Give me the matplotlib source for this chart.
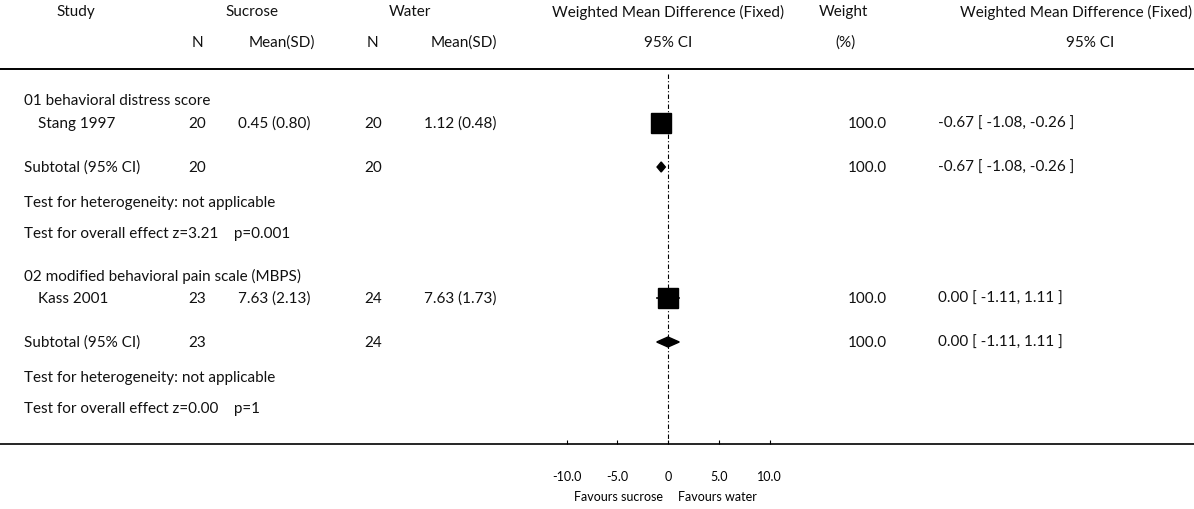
import matplotlib
matplotlib.use('Agg')
import matplotlib.pyplot as plt
from matplotlib.patches import Polygon

plt.rcParams['font.family'] = ['Lato', 'DejaVu Sans']

# ------------------------------------------------------------------ #
# Data                                                                 #
# ------------------------------------------------------------------ #
group_names = ['01 behavioral distress score',
               '02 modified behavioral pain scale (MBPS)']
study_names = ['Stang 1997', 'Kass 2001']
sucrose_n = [20, 23]
sucrose_mean = [0.45, 7.63]
sucrose_sd = [0.80, 2.13]
water_n = [20, 24]
water_mean = [1.12, 7.63]
water_sd = [0.48, 1.73]
weights = [100.0, 100.0]
wmd = [-0.67, 0.00]
ci_low = [-1.08, -1.11]
ci_high = [-0.26, 1.11]
z_values = ['3.21', '0.00']
p_values = ['0.001', '1']
axis_ticks = [-10, -5, 0, 5, 10]
axis_ticklabels = ['-10.0', '-5.0', '0', '5.0', '10.0']

W, H = 1194, 510
FS = 11

fig = plt.figure(figsize=(W / 100, H / 100), dpi=100)

# text layer in pixel coordinates (y grows downward)
tx = fig.add_axes([0, 0, 1, 1])
tx.set_xlim(0, W)
tx.set_ylim(H, 0)
tx.axis('off')


def put(x, y, s, ha='left', fs=FS):
    tx.text(x, y, s, ha=ha, va='center', fontsize=fs, color='#111111')


# column headers
put(76, 12, 'Study', 'center')
put(252, 12, 'Sucrose', 'center')
put(410, 12, 'Water', 'center')
put(668, 12, 'Weighted Mean Difference (Fixed)', 'center')
put(843, 12, 'Weight', 'center')
put(1192, 12, 'Weighted Mean Difference (Fixed)', 'right')
put(197, 43, 'N', 'center')
put(282, 43, 'Mean(SD)', 'center')
put(372, 43, 'N', 'center')
put(464, 43, 'Mean(SD)', 'center')
put(668, 43, '95% CI', 'center')
put(845, 43, '(%)', 'center')
put(1090, 43, '95% CI', 'center')

tx.plot([0, W], [70, 70], color='black', lw=1.4)
tx.plot([0, W], [445, 445], color='black', lw=1.2)

# row layout (pixel y of each line inside a group)
group_top = [101, 276]
study_y, sub_y, het_y, ovr_y = 23, 67, 102, 133

for i in range(len(study_names)):
    g = group_top[i]
    ci_txt = f'{wmd[i]:.2f} [ {ci_low[i]:.2f}, {ci_high[i]:.2f} ]'
    put(24, g, group_names[i])
    put(38, g + study_y, study_names[i])
    put(188, g + study_y, str(sucrose_n[i]))
    put(238, g + study_y, f'{sucrose_mean[i]:.2f} ({sucrose_sd[i]:.2f})')
    put(364, g + study_y, str(water_n[i]))
    put(424, g + study_y, f'{water_mean[i]:.2f} ({water_sd[i]:.2f})')
    put(848, g + study_y, f'{weights[i]:.1f}')
    put(938, g + study_y, ci_txt)
    put(24, g + sub_y, 'Subtotal (95% CI)')
    put(188, g + sub_y, str(sucrose_n[i]))
    put(364, g + sub_y, str(water_n[i]))
    put(848, g + sub_y, f'{weights[i]:.1f}')
    put(938, g + sub_y, ci_txt)
    put(24, g + het_y, 'Test for heterogeneity: not applicable')
    put(24, g + ovr_y, f'Test for overall effect z={z_values[i]}    p={p_values[i]}')

# forest panel: x in effect units, y in pixels
px_per_unit = 10.15
x0_px, x1_px, zero_px = 540, 796, 668
fx = fig.add_axes([x0_px / W, (H - 445) / H, (x1_px - x0_px) / W, (445 - 70) / H])
fx.set_xlim((x0_px - zero_px) / px_per_unit, (x1_px - zero_px) / px_per_unit)
fx.set_ylim(445, 70)
fx.patch.set_visible(False)
for sp in fx.spines.values():
    sp.set_visible(False)
fx.set_yticks([])
fx.set_xticks(axis_ticks)
fx.set_xticklabels(axis_ticklabels, fontsize=9)
fx.tick_params(axis='x', direction='in', length=3, width=0.8, pad=19)

# line of no effect
fx.plot([0, 0], [75, 445], color='black', lw=0.8, ls=(0, (4, 2, 1, 2)))

for i in range(len(study_names)):
    g = group_top[i]
    ys = g + study_y
    fx.plot([ci_low[i], ci_high[i]], [ys, ys], color='black', lw=1.2)
    fx.plot([wmd[i]], [ys], marker='s', markersize=14, color='black')
    yd = g + sub_y
    fx.add_patch(Polygon([[ci_low[i], yd], [wmd[i], yd - 5],
                          [ci_high[i], yd], [wmd[i], yd + 5]],
                         closed=True, color='black'))

tx.text(618, 497, 'Favours sucrose', ha='center', va='center', fontsize=9)
tx.text(717, 497, 'Favours water', ha='center', va='center', fontsize=9)

fig.savefig('out.png', dpi=100)
